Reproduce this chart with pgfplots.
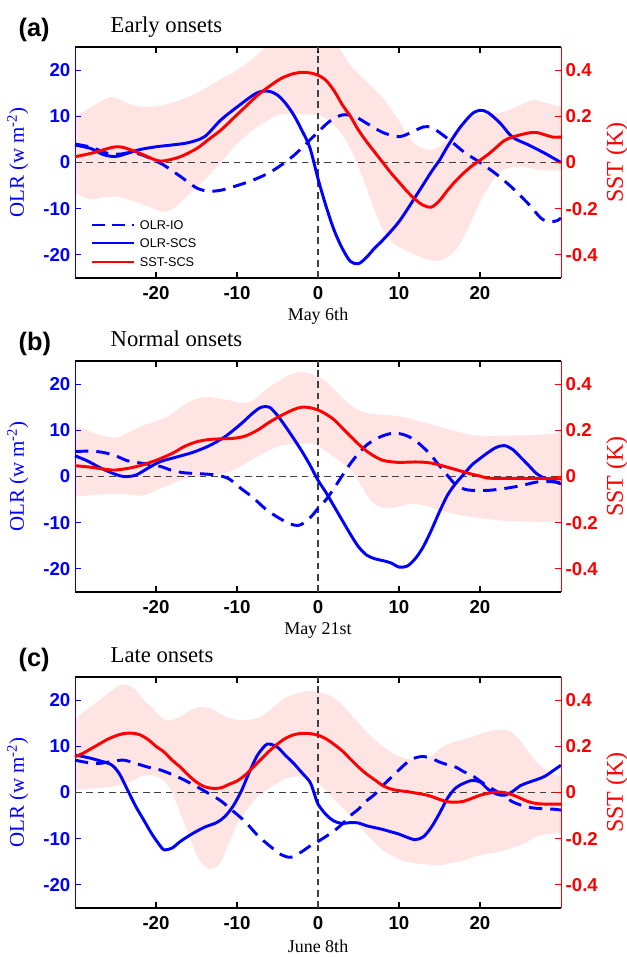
\documentclass[border=0pt]{standalone}
\usepackage{fontspec}
\setmainfont{Liberation Serif}
\newfontfamily\arial{Liberation Sans}
\usepackage{pgfplots}
\pgfplotsset{compat=1.18}
\usepgfplotslibrary{fillbetween}

\definecolor{pinkf}{RGB}{255,228,228}
\newcommand\tickf{\arial\bfseries\fontsize{14}{16}\selectfont}
\newcommand\labf{\fontsize{15.7}{18}\selectfont}
\newcommand\slabf{\fontsize{18}{20}\selectfont}
\newcommand\xlabf{\fontsize{13.5}{16}\selectfont}
\newcommand\titf{\fontsize{17}{19}\selectfont}
\newcommand\panf{\arial\bfseries\fontsize{19}{21}\selectfont}
\newcommand\legf{\arial\fontsize{9.5}{10}\selectfont}

\tikzset{zl/.style={black!75, line width=0.8pt, dash pattern=on 5pt off 3.5pt}}

\pgfplotsset{
 common/.style={width=364.5pt, height=173.25pt, scale only axis, xmin=-30, xmax=30},
 fillax/.style={common, hide axis, ymin=-0.5, ymax=0.5},
 olrax/.style={common, ymin=-25, ymax=25, clip=false,
   axis line style={draw=none},
   xtick={-20,-10,0,10,20}, xticklabels={-20,-10,0,10,20},
   ytick={-20,-10,0,10,20}, yticklabels={-20,-10,0,10,20},
   tick align=inside, major tick length=4.5pt,
   xtick pos=both, ytick pos=left,
   xtick style={black, line width=0.8pt},
   ytick style={blue, line width=0.7pt},
   xticklabel style={font=\tickf, yshift=-2.5pt},
   yticklabel style={font=\tickf, text=blue},
   xlabel style={font=\xlabf, at={([yshift=-29pt]axis description cs:0.5,0)}, anchor=center},
   ylabel style={font=\labf, text=blue, at={([xshift=-43pt]axis description cs:0,0.5)}, anchor=center},
   ylabel={OLR (w m\textsuperscript{-2})},
 },
 sstax/.style={common, ymin=-0.5, ymax=0.5, clip=false,
   axis x line=none, axis y line*=right, axis line style={red, line width=0.7pt},
   xtick=\empty,
   ytick={-0.4,-0.2,0,0.2,0.4}, yticklabels={-0.4,-0.2,0,0.2,0.4},
   tick align=inside, major tick length=4.5pt,
   ytick style={red, line width=0.7pt},
   yticklabel style={font=\tickf, text=red},
   ylabel={SST (K)},
   ylabel style={font=\slabf, text=red, at={([xshift=42pt]axis description cs:1,0.5)}, anchor=center},
 },
 io/.style={blue, line width=2.2pt, dash pattern=on 10pt off 6pt, smooth, tension=0.5},
 scs/.style={blue, line width=2.2pt, smooth, tension=0.5},
 sst/.style={red, line width=2.2pt, smooth, tension=0.5},
}

\begin{document}
\begin{tikzpicture}

%================ (a) =================
\begin{axis}[fillax, at={(0pt,0pt)}]
\addplot[name path=Ua, draw=none, smooth, tension=0.5] coordinates {(-30,0.2) (-28,0.24) (-26,0.28) (-25,0.28) (-23,0.25) (-21,0.24) (-19,0.25) (-17,0.27) (-15,0.3) (-13,0.34) (-11.5,0.37) (-10,0.4) (-8,0.45) (-6.5,0.5) (-5,0.54) (-3,0.56) (-1,0.56) (1,0.55) (2.5,0.5) (4,0.42) (6,0.35) (8,0.28) (10,0.18) (11,0.12) (12,0.08) (13,0.06) (14,0.055) (15,0.07) (16,0.1) (17.5,0.16) (19,0.2) (21,0.21) (23,0.22) (25,0.25) (26.5,0.27) (28,0.26) (30,0.24)};
\addplot[name path=La, draw=none, smooth, tension=0.5] coordinates {(-30,-0.134) (-28,-0.16) (-26.5,-0.15) (-25,-0.148) (-23,-0.165) (-21,-0.19) (-19,-0.214) (-17.5,-0.19) (-16,-0.14) (-14,-0.076) (-12,0.0) (-10,0.08) (-8,0.14) (-6.5,0.175) (-5,0.205) (-3,0.212) (-1,0.208) (0.5,0.2) (2,0.16) (3,0.12) (4,0.06) (5,-0.02) (6,-0.11) (7,-0.21) (8,-0.29) (9,-0.34) (10,-0.366) (12,-0.4) (14,-0.424) (15.5,-0.42) (17,-0.38) (18,-0.32) (19,-0.25) (20,-0.17) (21,-0.11) (22,-0.06) (23,-0.03) (25,-0.018) (27,-0.03) (28.5,-0.035) (30,-0.034)};
\addplot[pinkf, draw=none] fill between[of=Ua and La];
\end{axis}

\begin{axis}[olrax, at={(0pt,0pt)}, xlabel={May 6th}]
\draw[black, line width=1pt] (rel axis cs:0,0) -- (rel axis cs:1,0) (rel axis cs:0,1) -- (rel axis cs:1,1);
\draw[blue, line width=0.7pt] (rel axis cs:0,0) -- (rel axis cs:0,1);
\draw[zl] (axis cs:-30,0) -- (axis cs:30,0);
\draw[zl] (axis cs:0,-25) -- (axis cs:0,25);
\addplot[io] coordinates {(-30,4) (-28,3.3) (-26,2) (-24.5,1.8) (-23,2.2) (-21.5,1.5) (-20,0.3) (-19,-0.6) (-17,-3) (-15,-5.5) (-13.5,-6.2) (-12,-6) (-10,-5) (-8,-3.8) (-6,-2.2) (-4.5,-0.5) (-3,1.5) (-1.5,4) (0,6.6) (1.5,9) (3,10.3) (4.5,10) (6,8.5) (8,6.5) (10,5.6) (11.5,6.5) (13,7.7) (14,7.6) (15,6.5) (16.5,4.5) (18,2.3) (20,0) (22,-2.5) (24,-5.5) (26,-9) (27.5,-12) (28.5,-12.8) (29.5,-12.6) (30,-12)};
\addplot[scs] coordinates {(-30,3.8) (-28,3.0) (-26.5,1.7) (-25,1.3) (-23.5,2.0) (-22,2.8) (-20,3.4) (-18,3.8) (-16,4.3) (-14,5.6) (-12,9.2) (-10,12) (-8,14.6) (-7,15.4) (-6,15.4) (-5,14.6) (-4,12.8) (-3,10.3) (-2,7) (-1,3.2) (0,-3.5) (1,-9.5) (2,-14.7) (3,-18.6) (4,-21.4) (5,-21.9) (6,-20.5) (7,-18.5) (8,-16.8) (10,-12.8) (12,-7.5) (14,-2) (15,0.5) (16,3.5) (17.5,7.5) (19,10.5) (20,11.3) (21,10.8) (22.5,8.5) (24,5.5) (26,3.8) (28,2) (30,0)};
% legend
\draw[blue, line width=2.2pt, dash pattern=on 10pt off 5pt] ([xshift=12.75pt, yshift=39.75pt]rel axis cs:0,0) -- ([xshift=44.25pt, yshift=39.75pt]rel axis cs:0,0);
\draw[blue, line width=2.2pt] ([xshift=12.75pt, yshift=26.25pt]rel axis cs:0,0) -- ([xshift=44.25pt, yshift=26.25pt]rel axis cs:0,0);
\draw[red, line width=2.2pt] ([xshift=12.75pt, yshift=12pt]rel axis cs:0,0) -- ([xshift=44.25pt, yshift=12pt]rel axis cs:0,0);
\node[anchor=west, font=\legf, inner sep=0pt] at ([xshift=48.5pt, yshift=39.75pt]rel axis cs:0,0) {OLR-IO};
\node[anchor=west, font=\legf, inner sep=0pt] at ([xshift=48.5pt, yshift=26.25pt]rel axis cs:0,0) {OLR-SCS};
\node[anchor=west, font=\legf, inner sep=0pt] at ([xshift=48.5pt, yshift=12pt]rel axis cs:0,0) {SST-SCS};
\node[anchor=base west, font=\panf] at ([xshift=-45.75pt, yshift=8.25pt]rel axis cs:0,1) {(a)};
\node[anchor=base west, font=\titf] at ([xshift=23.25pt, yshift=11.25pt]rel axis cs:0,1) {Early onsets};
\end{axis}

\begin{axis}[sstax, at={(0pt,0pt)}]
\addplot[sst] coordinates {(-30,0.025) (-28,0.04) (-26,0.06) (-25,0.068) (-24,0.065) (-22,0.04) (-20,0.01) (-19,0.007) (-17,0.025) (-15,0.06) (-13.5,0.1) (-12,0.14) (-10.5,0.19) (-9,0.24) (-7.5,0.29) (-6,0.33) (-4.5,0.365) (-3,0.385) (-2,0.39) (-1,0.388) (0,0.378) (1,0.355) (2,0.31) (3,0.25) (4,0.2) (5,0.14) (6,0.09) (7,0.045) (8,0.0) (9,-0.045) (10,-0.085) (11,-0.125) (12,-0.16) (13,-0.185) (14,-0.193) (15,-0.165) (16,-0.12) (17,-0.08) (18,-0.045) (19,-0.015) (20,0.01) (21,0.035) (22,0.065) (23,0.095) (24,0.11) (25,0.12) (26,0.128) (27,0.13) (28,0.12) (29,0.11) (30,0.11)};
\end{axis}

%================ (b) =================
\begin{axis}[fillax, at={(0pt,-235.5pt)}]
\addplot[name path=Ub, draw=none, smooth, tension=0.5] coordinates {(-30,0.22) (-28.5,0.2) (-27,0.18) (-25,0.168) (-23.5,0.19) (-22,0.215) (-20,0.24) (-18.5,0.26) (-17,0.3) (-15.5,0.33) (-14,0.345) (-12.5,0.34) (-11,0.33) (-9.5,0.318) (-8,0.33) (-6.5,0.375) (-5,0.41) (-3.5,0.44) (-2,0.452) (-0.5,0.44) (1,0.41) (2.5,0.36) (4,0.31) (5.5,0.28) (7,0.27) (9,0.265) (11,0.254) (13,0.235) (15,0.215) (17,0.196) (19,0.18) (21,0.176) (23,0.177) (25,0.178) (27,0.18) (30,0.19)};
\addplot[name path=Lb, draw=none, smooth, tension=0.5] coordinates {(-30,-0.088) (-28.5,-0.082) (-27,-0.078) (-25,-0.074) (-23,-0.08) (-21.5,-0.082) (-20,-0.06) (-18.5,-0.038) (-16.5,-0.01) (-15,0.0) (-13,0.004) (-11,0.02) (-9.5,0.046) (-8,0.076) (-6.5,0.104) (-5,0.13) (-3.5,0.14) (-2,0.142) (-0.5,0.14) (1,0.11) (2.5,0.07) (4,0.03) (5,-0.02) (6,-0.08) (7,-0.12) (8.5,-0.138) (10,-0.13) (11.5,-0.118) (13,-0.125) (14.5,-0.14) (16,-0.155) (18,-0.17) (20,-0.18) (22.5,-0.19) (25,-0.195) (27.5,-0.196) (30,-0.196)};
\addplot[pinkf, draw=none] fill between[of=Ub and Lb];
\end{axis}

\begin{axis}[olrax, at={(0pt,-235.5pt)}, xlabel={May 21st}]
\draw[black, line width=1pt] (rel axis cs:0,0) -- (rel axis cs:1,0) (rel axis cs:0,1) -- (rel axis cs:1,1);
\draw[blue, line width=0.7pt] (rel axis cs:0,0) -- (rel axis cs:0,1);
\draw[zl] (axis cs:-30,0) -- (axis cs:30,0);
\draw[zl] (axis cs:0,-25) -- (axis cs:0,25);
\addplot[io] coordinates {(-30,5.4) (-28,5.5) (-26.5,5.2) (-25,4.5) (-23.5,3.4) (-21.5,2.8) (-19.5,2.2) (-18,1.3) (-16.5,0.8) (-14.5,0.6) (-12.5,0.3) (-11,-0.5) (-9.5,-2.6) (-8,-4.6) (-6.5,-7) (-5,-8.8) (-3.5,-10.2) (-2.5,-10.6) (-1.5,-9.8) (-0.5,-8) (0,-6.9) (1,-5) (2,-2.5) (3,0.2) (4,2.8) (5,5) (6,6.8) (7,8) (8,8.8) (9,9.3) (10,9.3) (11,8.8) (12,7.8) (13,6.3) (14,4.5) (15,2.3) (16,0.2) (17,-1.8) (18,-2.7) (19,-3) (21,-3) (23,-2.6) (25,-2) (27,-1.2) (28.5,-1.1) (30,-1.3)};
\addplot[scs] coordinates {(-30,4.5) (-28.5,3.4) (-27,2) (-25.5,0.8) (-24,0) (-22.5,0.3) (-21,1.8) (-19.5,3.2) (-17.5,4.2) (-15.5,5.2) (-13.5,6.6) (-11.5,8.6) (-9.5,11.4) (-8,13.8) (-7,15) (-6,15) (-5,13.2) (-4,10.8) (-3,8.2) (-2,5.5) (-1,2.5) (0,-0.8) (1,-3.5) (2,-6.5) (3,-9.5) (4,-12.5) (5,-15.2) (6,-17) (7,-17.8) (8,-18.2) (9,-18.7) (10,-19.6) (11,-19.4) (12,-17.8) (13,-15.2) (14,-11.6) (15,-7.6) (16,-4) (17,-1.5) (18,0.5) (19,2.5) (20,3.9) (21,5.2) (22,6.3) (23,6.7) (24,5.9) (25,4.2) (26,2.4) (27,0.6) (28,-0.4) (29,-1) (30,-1.6)};
\node[anchor=base west, font=\panf] at ([xshift=-45.75pt, yshift=8.25pt]rel axis cs:0,1) {(b)};
\node[anchor=base west, font=\titf] at ([xshift=23.25pt, yshift=11.25pt]rel axis cs:0,1) {Normal onsets};
\end{axis}

\begin{axis}[sstax, at={(0pt,-235.5pt)}]
\addplot[sst] coordinates {(-30,0.047) (-28,0.04) (-26,0.03) (-25,0.028) (-23.5,0.035) (-22,0.047) (-20,0.07) (-18,0.1) (-16.5,0.13) (-15,0.15) (-13.5,0.16) (-12,0.163) (-10.5,0.165) (-9,0.175) (-7.5,0.2) (-6,0.235) (-4.5,0.265) (-3,0.29) (-2,0.3) (-1,0.298) (0,0.288) (1,0.27) (2,0.245) (3,0.21) (4,0.175) (5,0.14) (6,0.11) (7,0.087) (8,0.07) (9,0.064) (10,0.061) (11,0.062) (12,0.063) (13,0.062) (14,0.058) (15,0.05) (16,0.04) (17,0.03) (18,0.02) (19,0.01) (20,0.002) (21,-0.007) (23,-0.008) (25,-0.008) (27,-0.008) (29,-0.009) (30,-0.01)};
\end{axis}

%================ (c) =================
\begin{axis}[fillax, at={(0pt,-472.5pt)}]
\addplot[name path=Uc, draw=none, smooth, tension=0.5] coordinates {(-30,0.32) (-28.5,0.36) (-27,0.4) (-25.5,0.44) (-24.5,0.465) (-23.5,0.465) (-22.5,0.445) (-21.5,0.4) (-20.5,0.37) (-19.5,0.33) (-18.5,0.31) (-17,0.33) (-15.5,0.36) (-14.5,0.372) (-13,0.36) (-11.5,0.33) (-10,0.315) (-8.5,0.315) (-7,0.33) (-5.5,0.37) (-4,0.41) (-2.5,0.43) (-1,0.44) (0.5,0.432) (2,0.41) (3.5,0.36) (5,0.3) (6.5,0.245) (8,0.2) (9.5,0.165) (11,0.145) (12.5,0.14) (14,0.16) (15.5,0.2) (17,0.22) (19,0.24) (21,0.265) (22.5,0.272) (24,0.26) (25.5,0.2) (27,0.13) (28.5,0.09) (30,0.07)};
\addplot[name path=Lc, draw=none, smooth, tension=0.5] coordinates {(-30,0.01) (-28,0.018) (-26,0.022) (-24.5,0.032) (-23,0.05) (-21.5,0.074) (-20,0.07) (-19,0.05) (-18,0.0) (-17,-0.09) (-16,-0.18) (-15,-0.27) (-14,-0.32) (-13,-0.33) (-12,-0.3) (-11,-0.22) (-10,-0.14) (-9,-0.085) (-7.5,-0.02) (-6,0.02) (-4,0.06) (-2.5,0.07) (-1,0.06) (0.5,0.025) (2,-0.03) (3.5,-0.085) (5,-0.14) (6.5,-0.2) (8,-0.25) (9.5,-0.28) (11,-0.3) (13,-0.31) (15,-0.315) (16.5,-0.305) (18,-0.295) (19.5,-0.275) (21,-0.265) (22.5,-0.255) (24,-0.24) (25.5,-0.22) (27,-0.19) (28.5,-0.178) (30,-0.178)};
\addplot[pinkf, draw=none] fill between[of=Uc and Lc];
\end{axis}

\begin{axis}[olrax, at={(0pt,-472.5pt)}, xlabel={June 8th}]
\draw[black, line width=1pt] (rel axis cs:0,0) -- (rel axis cs:1,0) (rel axis cs:0,1) -- (rel axis cs:1,1);
\draw[blue, line width=0.7pt] (rel axis cs:0,0) -- (rel axis cs:0,1);
\draw[zl] (axis cs:-30,0) -- (axis cs:30,0);
\draw[zl] (axis cs:0,-25) -- (axis cs:0,25);
\addplot[io] coordinates {(-30,7) (-28.5,6.5) (-27,6.3) (-25.5,6.7) (-24,7) (-22.5,6.3) (-21,5.5) (-19.5,4.9) (-18,3.9) (-16.5,2.7) (-15,1.3) (-13.5,-0.2) (-12,-1.8) (-10.5,-4) (-9,-6.3) (-7.5,-9.2) (-6,-11.5) (-4.5,-13.5) (-3.3,-14) (-2,-12.8) (-1,-11.6) (0,-10.6) (1,-9.5) (2,-8.3) (3,-6.8) (4,-5) (5,-3.6) (6,-1.8) (7,-0.4) (8,1.5) (9,3.2) (10,4.9) (11,6.5) (12,7.5) (13,7.8) (14,7.4) (15,6.6) (16,6) (17,5.5) (18,4.5) (19,3.7) (20,2.5) (21,1.3) (22,0.3) (23,-0.8) (24,-2) (25,-2.7) (26,-3.2) (27.5,-3.5) (29,-3.6) (30,-3.8)};
\addplot[scs] coordinates {(-30,8.1) (-28.5,7.6) (-27,6.9) (-25.5,6) (-24.5,4) (-23.5,0.5) (-22.5,-3) (-21.5,-6) (-20.5,-9) (-19.5,-11.5) (-19,-12.4) (-18,-12) (-17,-10.6) (-15.5,-8.9) (-14,-7.5) (-12.5,-6.5) (-11.5,-5.2) (-10.5,-3) (-9.5,0.2) (-8.5,4.3) (-7.5,8) (-6.5,10.2) (-6,10.5) (-5,9.8) (-4,8) (-3,6.3) (-2,4.3) (-1,2.3) (-0.5,0) (0,-2.5) (1,-4.8) (2,-6.2) (3,-6.7) (4,-6.5) (5,-6.6) (6,-7.2) (7,-7.6) (8,-8) (9,-8.5) (10,-9) (11,-9.7) (12,-10.2) (13,-9.6) (14,-7.5) (15,-4.5) (16,-1.2) (17,1) (18,2) (19,2.6) (20,2.3) (21,0.7) (22,-0.3) (23,-0.6) (24,0.2) (25,1.5) (26,2.2) (27,2.8) (28,3.5) (29,4.7) (30,5.9)};
\node[anchor=base west, font=\panf] at ([xshift=-45.75pt, yshift=8.25pt]rel axis cs:0,1) {(c)};
\node[anchor=base west, font=\titf] at ([xshift=23.25pt, yshift=11.25pt]rel axis cs:0,1) {Late onsets};
\end{axis}

\begin{axis}[sstax, at={(0pt,-472.5pt)}]
\addplot[sst] coordinates {(-30,0.155) (-29,0.17) (-28,0.19) (-27,0.21) (-26,0.23) (-25,0.245) (-24,0.255) (-23,0.257) (-22,0.25) (-21,0.23) (-20,0.2) (-19,0.175) (-18,0.14) (-17,0.11) (-16,0.075) (-15,0.045) (-14,0.025) (-13,0.018) (-12,0.02) (-11,0.035) (-10,0.05) (-9,0.075) (-8,0.11) (-7,0.145) (-6,0.18) (-5,0.21) (-4,0.235) (-3,0.25) (-2,0.256) (-1,0.255) (0,0.248) (1,0.232) (2,0.208) (3,0.18) (4,0.145) (5,0.11) (6,0.08) (7,0.055) (8,0.03) (9,0.015) (10,0.008) (11,0.004) (12,-0.002) (13,-0.008) (14,-0.017) (15,-0.03) (16,-0.04) (17,-0.042) (18,-0.038) (19,-0.025) (20,-0.012) (21,-0.003) (22,0.002) (23,0.0) (24,-0.01) (25,-0.025) (26,-0.04) (27,-0.048) (28,-0.05) (29,-0.05) (30,-0.05)};
\end{axis}

\pgfresetboundingbox
\path[use as bounding box] (-56.25pt,208.5pt) rectangle (414pt,-509.25pt);
\end{tikzpicture}
\end{document}
